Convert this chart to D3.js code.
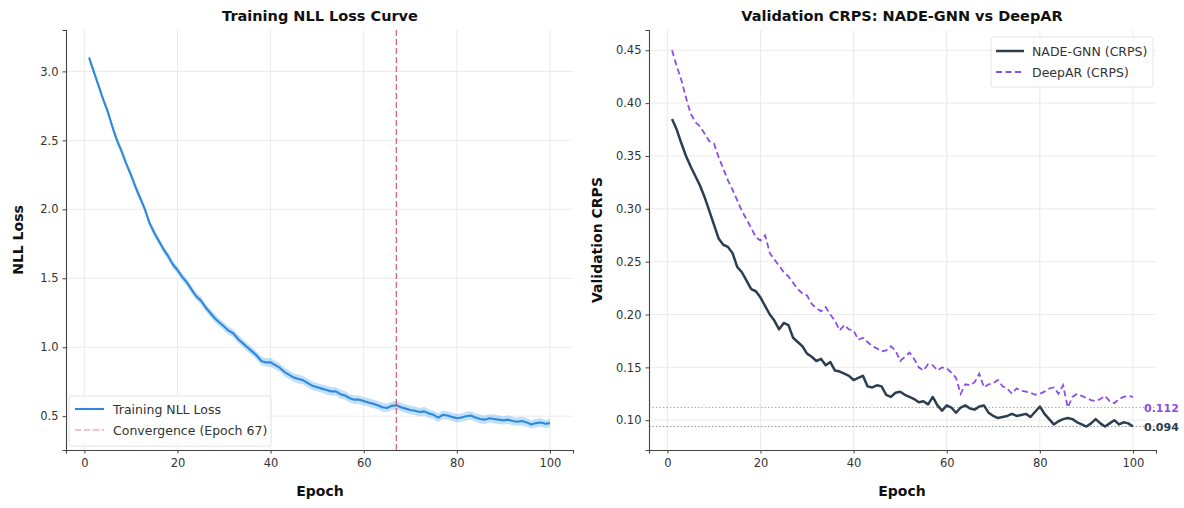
<!DOCTYPE html>
<html>
<head>
<meta charset="utf-8">
<script src="https://cdn.jsdelivr.net/npm/d3@7"></script>
<style>
  body { margin: 0; background: #fff; }
  svg { display: block; font-family: "DejaVu Sans", sans-serif; }
</style>
</head>
<body>
<svg id="chart" width="1184" height="508"></svg>
<script>
// ---------------- DATA ----------------
const epochs = d3.range(1, 101);

const trainLoss = [
  3.10, 3.00, 2.90, 2.80, 2.71, 2.60, 2.50, 2.42, 2.33, 2.25,
  2.16, 2.08, 2.00, 1.90, 1.83, 1.77, 1.71, 1.66, 1.60, 1.56,
  1.51, 1.47, 1.42, 1.37, 1.34, 1.29, 1.25, 1.21, 1.18, 1.15,
  1.12, 1.10, 1.06, 1.03, 1.00, 0.97, 0.94, 0.90, 0.89, 0.89,
  0.87, 0.85, 0.82, 0.80, 0.78, 0.77, 0.76, 0.74, 0.72, 0.71,
  0.70, 0.69, 0.68, 0.68, 0.66, 0.65, 0.63, 0.62, 0.62, 0.61,
  0.60, 0.59, 0.58, 0.565, 0.56, 0.575, 0.58, 0.565, 0.555, 0.545,
  0.54, 0.53, 0.535, 0.52, 0.51, 0.49, 0.51, 0.505, 0.495, 0.485,
  0.49, 0.50, 0.505, 0.49, 0.48, 0.475, 0.485, 0.48, 0.475, 0.47,
  0.475, 0.465, 0.46, 0.465, 0.455, 0.44, 0.45, 0.455, 0.445, 0.45
];

const trainStd = [
  0.020, 0.022, 0.021, 0.023, 0.022, 0.024, 0.023, 0.025, 0.024, 0.026,
  0.025, 0.024, 0.026, 0.025, 0.027, 0.026, 0.025, 0.027, 0.026, 0.028,
  0.027, 0.026, 0.028, 0.027, 0.029, 0.028, 0.027, 0.029, 0.028, 0.030,
  0.029, 0.028, 0.030, 0.029, 0.031, 0.030, 0.029, 0.031, 0.030, 0.032,
  0.031, 0.030, 0.032, 0.031, 0.030, 0.032, 0.031, 0.030, 0.032, 0.031,
  0.030, 0.032, 0.031, 0.030, 0.032, 0.031, 0.030, 0.032, 0.031, 0.030,
  0.032, 0.031, 0.030, 0.032, 0.031, 0.030, 0.032, 0.031, 0.030, 0.032,
  0.031, 0.030, 0.032, 0.031, 0.030, 0.032, 0.031, 0.030, 0.032, 0.031,
  0.030, 0.032, 0.031, 0.030, 0.032, 0.031, 0.030, 0.032, 0.031, 0.030,
  0.032, 0.031, 0.030, 0.032, 0.031, 0.030, 0.032, 0.031, 0.030, 0.031
];

const convergenceEpoch = 67;

const nadeCrps = [
  0.385, 0.375, 0.362, 0.350, 0.340, 0.331, 0.322, 0.311, 0.298, 0.285,
  0.272, 0.266, 0.264, 0.258, 0.245, 0.240, 0.232, 0.224, 0.222, 0.216,
  0.208, 0.200, 0.194, 0.186, 0.192, 0.190, 0.178, 0.174, 0.170, 0.163,
  0.160, 0.156, 0.158, 0.152, 0.155, 0.147, 0.146, 0.144, 0.142, 0.138,
  0.140, 0.142, 0.132, 0.131, 0.133, 0.132, 0.124, 0.122, 0.126, 0.127,
  0.124, 0.122, 0.120, 0.117, 0.118, 0.115, 0.122, 0.114, 0.109, 0.114,
  0.112, 0.107, 0.112, 0.114, 0.111, 0.110, 0.113, 0.114, 0.107, 0.104,
  0.102, 0.103, 0.104, 0.106, 0.104, 0.105, 0.106, 0.103, 0.108, 0.113,
  0.106, 0.101, 0.096, 0.099, 0.101, 0.102, 0.101, 0.098, 0.096, 0.094,
  0.097, 0.101, 0.097, 0.094, 0.097, 0.100, 0.096, 0.098, 0.097, 0.094
];

const deeparCrps = [
  0.450, 0.435, 0.422, 0.405, 0.390, 0.382, 0.378, 0.371, 0.364, 0.362,
  0.349, 0.338, 0.327, 0.318, 0.308, 0.298, 0.290, 0.282, 0.273, 0.270,
  0.275, 0.258, 0.252, 0.246, 0.240, 0.236, 0.230, 0.224, 0.220, 0.218,
  0.210, 0.206, 0.203, 0.207, 0.200, 0.194, 0.185, 0.190, 0.186, 0.185,
  0.176, 0.178, 0.174, 0.170, 0.168, 0.165, 0.166, 0.170, 0.166, 0.156,
  0.160, 0.164, 0.158, 0.150, 0.147, 0.153, 0.152, 0.147, 0.150, 0.149,
  0.145, 0.140, 0.125, 0.134, 0.133, 0.136, 0.144, 0.131, 0.134, 0.135,
  0.138, 0.132, 0.130, 0.125, 0.130, 0.128, 0.127, 0.126, 0.124, 0.125,
  0.127, 0.130, 0.131, 0.125, 0.133, 0.112, 0.122, 0.125, 0.123, 0.121,
  0.119, 0.118, 0.120, 0.123, 0.118, 0.116, 0.120, 0.122, 0.123, 0.122
];

const xTicks = [0, 20, 40, 60, 80, 100];
const lossTicks = [0.5, 1.0, 1.5, 2.0, 2.5, 3.0];
const crpsTicks = [0.10, 0.15, 0.20, 0.25, 0.30, 0.35, 0.40, 0.45];

// ---------------- DRAW ----------------
const svg = d3.select("#chart");
const plotTop = 30, plotBottom = 450;
const textColor = "#333";
const tickFont = 11.5, legendFont = 12.5, titleFont = 14.5, labelFont = 14;

function drawAxes(g, x, y, yTicks, yFmt) {
  g.append("g").selectAll("line").data(xTicks).join("line")
    .attr("x1", d => x(d)).attr("x2", d => x(d))
    .attr("y1", plotTop).attr("y2", plotBottom)
    .attr("stroke", "#e6e6e6").attr("stroke-width", 0.8);
  g.append("g").selectAll("line").data(yTicks).join("line")
    .attr("x1", x.range()[0]).attr("x2", x.range()[1])
    .attr("y1", d => y(d)).attr("y2", d => y(d))
    .attr("stroke", "#e6e6e6").attr("stroke-width", 0.8);

  const xa = g.append("g").attr("transform", `translate(0,${plotBottom})`)
    .call(d3.axisBottom(x).tickValues(xTicks).tickFormat(d3.format("d")).tickSizeOuter(0).tickSize(3.5).tickPadding(5));
  const ya = g.append("g").attr("transform", `translate(${x.range()[0]},0)`)
    .call(d3.axisLeft(y).tickValues(yTicks).tickFormat(d3.format(yFmt)).tickSizeOuter(0).tickSize(3.5).tickPadding(4));
  [xa, ya].forEach(a => {
    a.select(".domain").attr("stroke", "#444").attr("stroke-width", 1.1);
    a.selectAll(".tick line").attr("stroke", "#444");
    a.selectAll(".tick text").attr("fill", textColor).attr("font-size", tickFont)
      .attr("font-family", "DejaVu Sans, sans-serif");
  });
}

// ---- Left: Training NLL ----
{
  const x = d3.scaleLinear().domain([-3.95, 104.95]).range([66, 573]);
  const y = d3.scaleLinear().domain([0.255, 3.30]).range([plotBottom, plotTop]);
  const g = svg.append("g");
  drawAxes(g, x, y, lossTicks, ".1f");

  const band = d3.area()
    .x((d, i) => x(epochs[i]))
    .y0((d, i) => y(trainLoss[i] - trainStd[i]))
    .y1((d, i) => y(trainLoss[i] + trainStd[i]));
  g.append("path").datum(trainLoss).attr("d", band)
    .attr("fill", "#64b5f6").attr("fill-opacity", 0.4);

  const line = d3.line().x((d, i) => x(epochs[i])).y(d => y(d));
  g.append("path").datum(trainLoss).attr("d", line)
    .attr("fill", "none").attr("stroke", "#2f88dc").attr("stroke-width", 2.1)
    .attr("stroke-linejoin", "round");

  g.append("line")
    .attr("x1", x(convergenceEpoch)).attr("x2", x(convergenceEpoch))
    .attr("y1", plotTop).attr("y2", plotBottom)
    .attr("stroke", "#d6304f").attr("stroke-opacity", 0.8)
    .attr("stroke-width", 1.2).attr("stroke-dasharray", "6,3");

  g.append("text").attr("x", 320).attr("y", 21).attr("text-anchor", "middle")
    .attr("font-size", titleFont).attr("font-weight", "bold").attr("fill", "#111")
    .text("Training NLL Loss Curve");
  g.append("text").attr("x", 320).attr("y", 496).attr("text-anchor", "middle")
    .attr("font-size", labelFont).attr("font-weight", "bold").attr("fill", "#111")
    .text("Epoch");
  g.append("text").attr("transform", "translate(23,240) rotate(-90)")
    .attr("text-anchor", "middle")
    .attr("font-size", labelFont).attr("font-weight", "bold").attr("fill", "#111")
    .text("NLL Loss");

  const lg = g.append("g").attr("transform", "translate(69,396)");
  lg.append("rect").attr("width", 202).attr("height", 50).attr("rx", 2)
    .attr("fill", "#fff").attr("fill-opacity", 0.85)
    .attr("stroke", "#dddddd").attr("stroke-width", 0.8);
  lg.append("line").attr("x1", 6).attr("x2", 35).attr("y1", 13).attr("y2", 13)
    .attr("stroke", "#2f88dc").attr("stroke-width", 2.1);
  lg.append("text").attr("x", 44).attr("y", 17.5).attr("font-size", legendFont).attr("fill", textColor)
    .text("Training NLL Loss");
  lg.append("line").attr("x1", 6).attr("x2", 35).attr("y1", 34).attr("y2", 34)
    .attr("stroke", "#d6304f").attr("stroke-opacity", 0.6).attr("stroke-width", 1.2)
    .attr("stroke-dasharray", "6,3");
  lg.append("text").attr("x", 44).attr("y", 38.5).attr("font-size", legendFont).attr("fill", textColor)
    .text("Convergence (Epoch 67)");
}

// ---- Right: Validation CRPS ----
{
  const x = d3.scaleLinear().domain([-3.95, 104.95]).range([649, 1156]);
  const y = d3.scaleLinear().domain([0.0718, 0.4692]).range([plotBottom, plotTop]);
  const g = svg.append("g");
  drawAxes(g, x, y, crpsTicks, ".2f");

  const nadeColor = "#2c3e50", deepColor = "#8a4fe6";
  const bestNade = d3.min(nadeCrps), bestDeep = d3.min(deeparCrps);

  g.append("line").attr("x1", 649).attr("x2", 1156)
    .attr("y1", y(bestDeep)).attr("y2", y(bestDeep))
    .attr("stroke", deepColor).attr("stroke-opacity", 0.55).attr("stroke-width", 1)
    .attr("stroke-dasharray", "1.5,2");
  g.append("line").attr("x1", 649).attr("x2", 1156)
    .attr("y1", y(bestNade)).attr("y2", y(bestNade))
    .attr("stroke", nadeColor).attr("stroke-opacity", 0.55).attr("stroke-width", 1)
    .attr("stroke-dasharray", "1.5,2");

  const line = d3.line().x((d, i) => x(epochs[i])).y(d => y(d));
  g.append("path").datum(deeparCrps).attr("d", line)
    .attr("fill", "none").attr("stroke", deepColor).attr("stroke-width", 1.8)
    .attr("stroke-dasharray", "6,3.5");
  g.append("path").datum(nadeCrps).attr("d", line)
    .attr("fill", "none").attr("stroke", nadeColor).attr("stroke-width", 2.5)
    .attr("stroke-linejoin", "round");

  g.append("text").attr("x", 1144).attr("y", y(bestDeep) + 4)
    .attr("font-size", 11).attr("font-weight", "bold").attr("fill", deepColor)
    .text(bestDeep.toFixed(3));
  g.append("text").attr("x", 1144).attr("y", y(bestNade) + 4)
    .attr("font-size", 11).attr("font-weight", "bold").attr("fill", nadeColor)
    .text(bestNade.toFixed(3));

  g.append("text").attr("x", 902).attr("y", 21).attr("text-anchor", "middle")
    .attr("font-size", titleFont).attr("font-weight", "bold").attr("fill", "#111")
    .text("Validation CRPS: NADE-GNN vs DeepAR");
  g.append("text").attr("x", 902).attr("y", 496).attr("text-anchor", "middle")
    .attr("font-size", labelFont).attr("font-weight", "bold").attr("fill", "#111")
    .text("Epoch");
  g.append("text").attr("transform", "translate(602,240) rotate(-90)")
    .attr("text-anchor", "middle")
    .attr("font-size", labelFont).attr("font-weight", "bold").attr("fill", "#111")
    .text("Validation CRPS");

  const lg = g.append("g").attr("transform", "translate(991,37)");
  lg.append("rect").attr("width", 162).attr("height", 50).attr("rx", 2)
    .attr("fill", "#fff").attr("fill-opacity", 0.85)
    .attr("stroke", "#dddddd").attr("stroke-width", 0.8);
  lg.append("line").attr("x1", 5).attr("x2", 33).attr("y1", 14).attr("y2", 14)
    .attr("stroke", nadeColor).attr("stroke-width", 2.5);
  lg.append("text").attr("x", 41).attr("y", 18.5).attr("font-size", legendFont).attr("fill", textColor)
    .text("NADE-GNN (CRPS)");
  lg.append("line").attr("x1", 5).attr("x2", 33).attr("y1", 35).attr("y2", 35)
    .attr("stroke", deepColor).attr("stroke-width", 1.8).attr("stroke-dasharray", "6,3.5");
  lg.append("text").attr("x", 41).attr("y", 39.5).attr("font-size", legendFont).attr("fill", textColor)
    .text("DeepAR (CRPS)");
}
</script>
</body>
</html>
